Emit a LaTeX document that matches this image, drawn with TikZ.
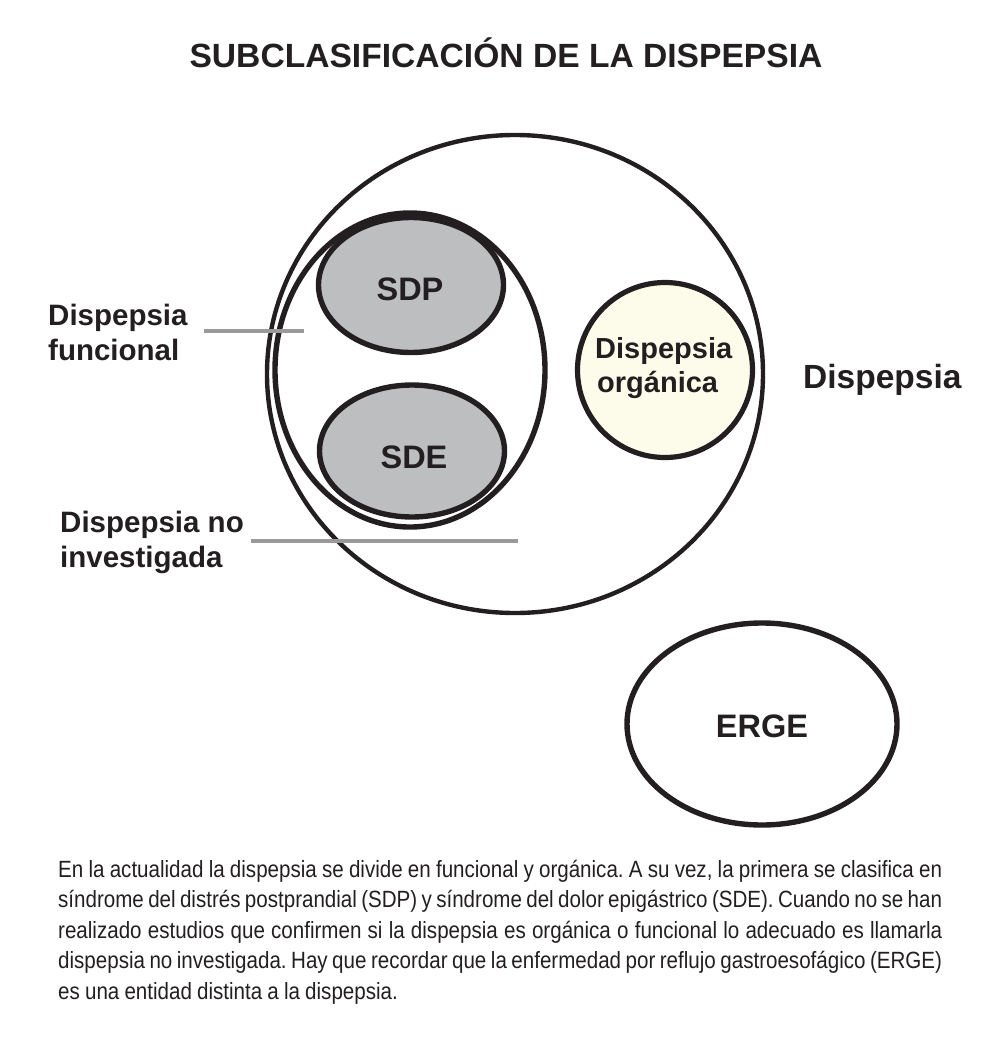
\documentclass[tikz,border=0pt]{standalone}
\usepackage{fontspec}
\setmainfont{Liberation Sans}
\newfontfamily\condensed[FakeStretch=0.875]{Liberation Sans}
\usetikzlibrary{shapes.geometric}
\definecolor{ink}{HTML}{231F20}
\definecolor{shade}{HTML}{BCBEC0}
\definecolor{cream}{HTML}{FDFBEA}
\definecolor{leadgray}{HTML}{9A9A9A}
\tikzset{
  outline/.style={draw=ink, line width=5.4pt, inner sep=0pt, ellipse},
  grayell/.style={outline, fill=shade},
  bigtext/.style={text=ink, font=\bfseries\fontsize{32.5}{36}\selectfont, inner sep=0pt},
  sidetext/.style={text=ink, font=\bfseries\fontsize{29.5}{35}\selectfont, inner sep=0pt, align=left},
  leader/.style={draw=leadgray, line width=3.2pt},
}
\begin{document}
\begin{tikzpicture}[x=1pt,y=-1pt]
\useasboundingbox (0,0) rectangle (995,1062);
% title
\node[text=ink, font=\bfseries\fontsize{33.6}{36}\selectfont, inner sep=0pt, anchor=base] (title) at (506,68) {SUBCLASIFICACIÓN DE LA DISPEPSIA};
% big circle
\node[outline, line width=4.4pt, minimum width=496pt, minimum height=478pt] (dispepsia) at (515,374) {};
% functional ellipse
\node[outline, minimum width=270pt, minimum height=314pt] (funcional) at (410,370) {};
% SDP and SDE
\node[grayell, minimum width=185pt, minimum height=135pt] (sdp) at (411,285) {};
\node[grayell, minimum width=185pt, minimum height=132pt] (sde) at (412,451) {};
\node[bigtext, anchor=base] (sdptext) at (410,300) {SDP};
\node[bigtext, anchor=base] (sdetext) at (414,468) {SDE};
% organic
\node[draw=ink, line width=5.2pt, fill=cream, circle, inner sep=0pt, minimum size=175pt] (organica) at (665,370) {};
\node[text=ink, font=\bfseries\fontsize{29}{34}\selectfont, inner sep=0pt, anchor=base west] (orgtext1) at (595,358) {Dispepsia};
\node[text=ink, font=\bfseries\fontsize{29}{34}\selectfont, inner sep=0pt, anchor=base west] (orgtext2) at (597,392) {orgánica};
% right label
\node[text=ink, font=\bfseries\fontsize{33.5}{36}\selectfont, inner sep=0pt, anchor=base west] (disptext) at (803,388) {Dispepsia};
% ERGE
\node[outline, minimum width=270pt, minimum height=202pt] (erge) at (762,724) {};
\node[bigtext, anchor=base] (ergetext) at (762,737) {ERGE};
% left labels
\node[sidetext, anchor=base west] (funtext1) at (48,325) {Dispepsia};
\node[sidetext, anchor=base west] (funtext2) at (48,360) {funcional};
\node[sidetext, anchor=base west] (nitext1) at (60,532) {Dispepsia no};
\node[sidetext, anchor=base west] (nitext2) at (60,567) {investigada};
% leader lines
\coordinate (fa) at (204,331);
\coordinate (fb) at (304,331);
\coordinate (na) at (251,541);
\coordinate (nb) at (518,541);
\draw[leader] (fa) -- (fb);
\draw[leader] (na) -- (nb);
% caption
\node[text=ink, inner sep=0pt, anchor=north west, text width=884pt, align=justify,
  font=\condensed\fontsize{23.5}{30.4}\selectfont] (caption) at (58,860)
  {\frenchspacing\spaceskip=0.22em plus 1em minus 0.12em
  En la actualidad la dispepsia se divide en funcional y orgánica. A su vez, la primera se clasifica en\linebreak
  síndrome del distrés postprandial (SDP) y síndrome del dolor epigástrico (SDE). Cuando no se han\linebreak
  realizado estudios que confirmen si la dispepsia es orgánica o funcional lo adecuado es llamarla\linebreak
  dispepsia no investigada. Hay que recordar que la enfermedad por reflujo gastroesofágico (ERGE)\linebreak
  es una entidad distinta a la dispepsia.};
\end{tikzpicture}
\end{document}
